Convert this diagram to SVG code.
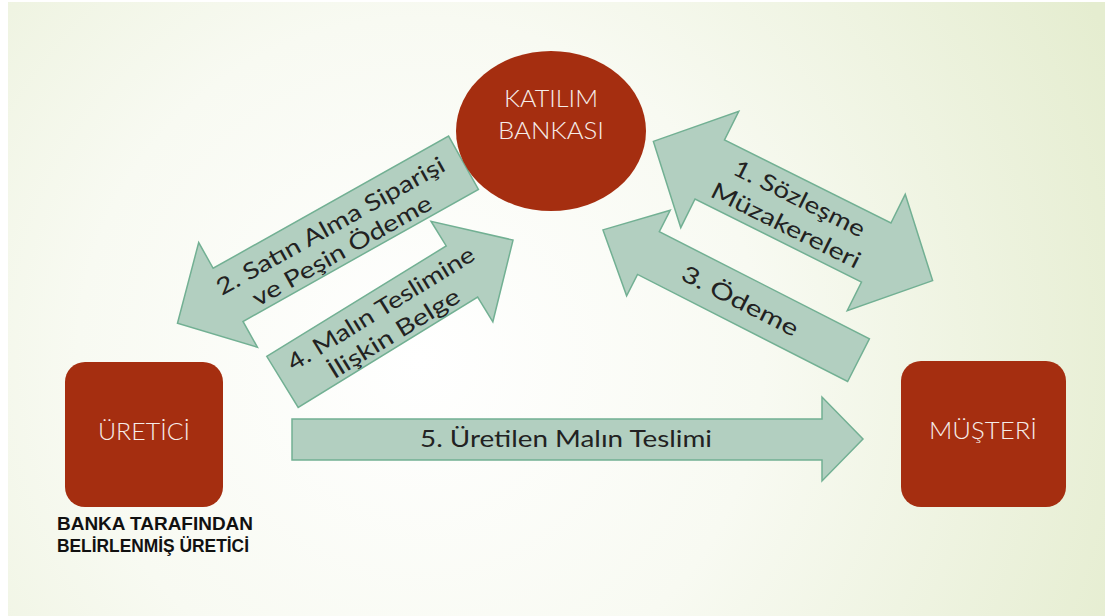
<svg xmlns="http://www.w3.org/2000/svg" width="1105" height="616" viewBox="0 0 1105 616">
<defs>
<radialGradient id="bg" cx="420" cy="360" r="760" gradientUnits="userSpaceOnUse">
<stop offset="0" stop-color="#ffffff"/>
<stop offset="0.45" stop-color="#f8faf2"/>
<stop offset="1" stop-color="#e5edd0"/>
</radialGradient>
<style>
.arrow{fill:#b2cfc0;stroke:#72b093;stroke-width:1.5;stroke-linejoin:miter}
.node{fill:#a52e10}
.ntxt{font-family:"Lato","Liberation Sans",sans-serif;font-size:23px;font-weight:300;fill:#f6ece8;text-anchor:middle}
.atxt{font-family:"Lato","Liberation Sans",sans-serif;font-size:23px;font-weight:400;fill:#222222;text-anchor:middle}
.lbl{font-family:"Liberation Sans",Arial,sans-serif;font-size:18px;font-weight:bold;fill:#111}
</style>
</defs>
<rect x="0" y="0" width="1105" height="616" fill="#ffffff"/>
<rect x="8" y="2" width="1097" height="614" fill="url(#bg)"/>

<g id="connectors">
<g id="arrow2" transform="translate(320.5,243) rotate(-29.3)">
<polygon class="arrow" points="-164,0 -106,-60 -106,-30.5 164,-30.5 164,30.5 -106,30.5 -106,60"/>
<text class="atxt" x="17" y="-2" textLength="258" lengthAdjust="spacingAndGlyphs">2. Satın Alma Siparişi</text>
<text class="atxt" x="15" y="25" textLength="202" lengthAdjust="spacingAndGlyphs">ve Peşin Ödeme</text>
</g>
<g id="arrow4" transform="translate(397.75,311) rotate(-31.6)">
<polygon class="arrow" points="-135.35,-30 75.35,-30 75.35,-59 135.35,0 75.35,59 75.35,30 -135.35,30"/>
<text class="atxt" x="-13" y="-3" textLength="215" lengthAdjust="spacingAndGlyphs">4. Malın Teslimine</text>
<text class="atxt" x="-15" y="25" textLength="150" lengthAdjust="spacingAndGlyphs">İlişkin Belge</text>
</g>
<g id="arrow1" transform="translate(793,211) rotate(26.5)">
<polygon class="arrow" points="-156,0 -93,-65 -93,-33 93,-33 93,-65 156,0 93,65 93,33 -93,33 -93,65"/>
<text class="atxt" x="0" y="-6" textLength="144" lengthAdjust="spacingAndGlyphs">1. Sözleşme</text>
<text class="atxt" x="0" y="24" textLength="164" lengthAdjust="spacingAndGlyphs">Müzakereleri</text>
</g>
<g id="arrow3" transform="translate(730.75,295) rotate(27)">
<polygon class="arrow" points="-143.4,0 -92.4,-48 -92.4,-24 143.4,-24 143.4,24 -92.4,24 -92.4,48"/>
<text class="atxt" x="11" y="9" textLength="128" lengthAdjust="spacingAndGlyphs">3. Ödeme</text>
</g>
<g id="arrow5">
<polygon class="arrow" points="292,419 822,419 822,397 863,439 822,481 822,460 292,460"/>
<text class="atxt" x="566" y="447" textLength="292" lengthAdjust="spacingAndGlyphs">5. Üretilen Malın Teslimi</text>
</g>
</g>

<g id="bank">
<ellipse class="node" cx="551" cy="131" rx="95" ry="80"/>
<text class="ntxt" x="551" y="107" textLength="94" lengthAdjust="spacingAndGlyphs">KATILIM</text>
<text class="ntxt" x="551" y="139" textLength="106" lengthAdjust="spacingAndGlyphs">BANKASI</text>
</g>
<g id="producer">
<rect class="node" x="65" y="362" width="158" height="145" rx="20" ry="20"/>
<text class="ntxt" x="144" y="440" textLength="92" lengthAdjust="spacingAndGlyphs">ÜRETİCİ</text>
<text class="lbl" x="57" y="530" textLength="196" lengthAdjust="spacingAndGlyphs">BANKA TARAFINDAN</text>
<text class="lbl" x="57" y="552" textLength="192" lengthAdjust="spacingAndGlyphs">BELİRLENMİŞ ÜRETİCİ</text>
</g>
<g id="customer">
<rect class="node" x="901" y="361" width="165" height="146" rx="20" ry="20"/>
<text class="ntxt" x="983" y="439" textLength="108" lengthAdjust="spacingAndGlyphs">MÜŞTERİ</text>
</g>
</svg>
